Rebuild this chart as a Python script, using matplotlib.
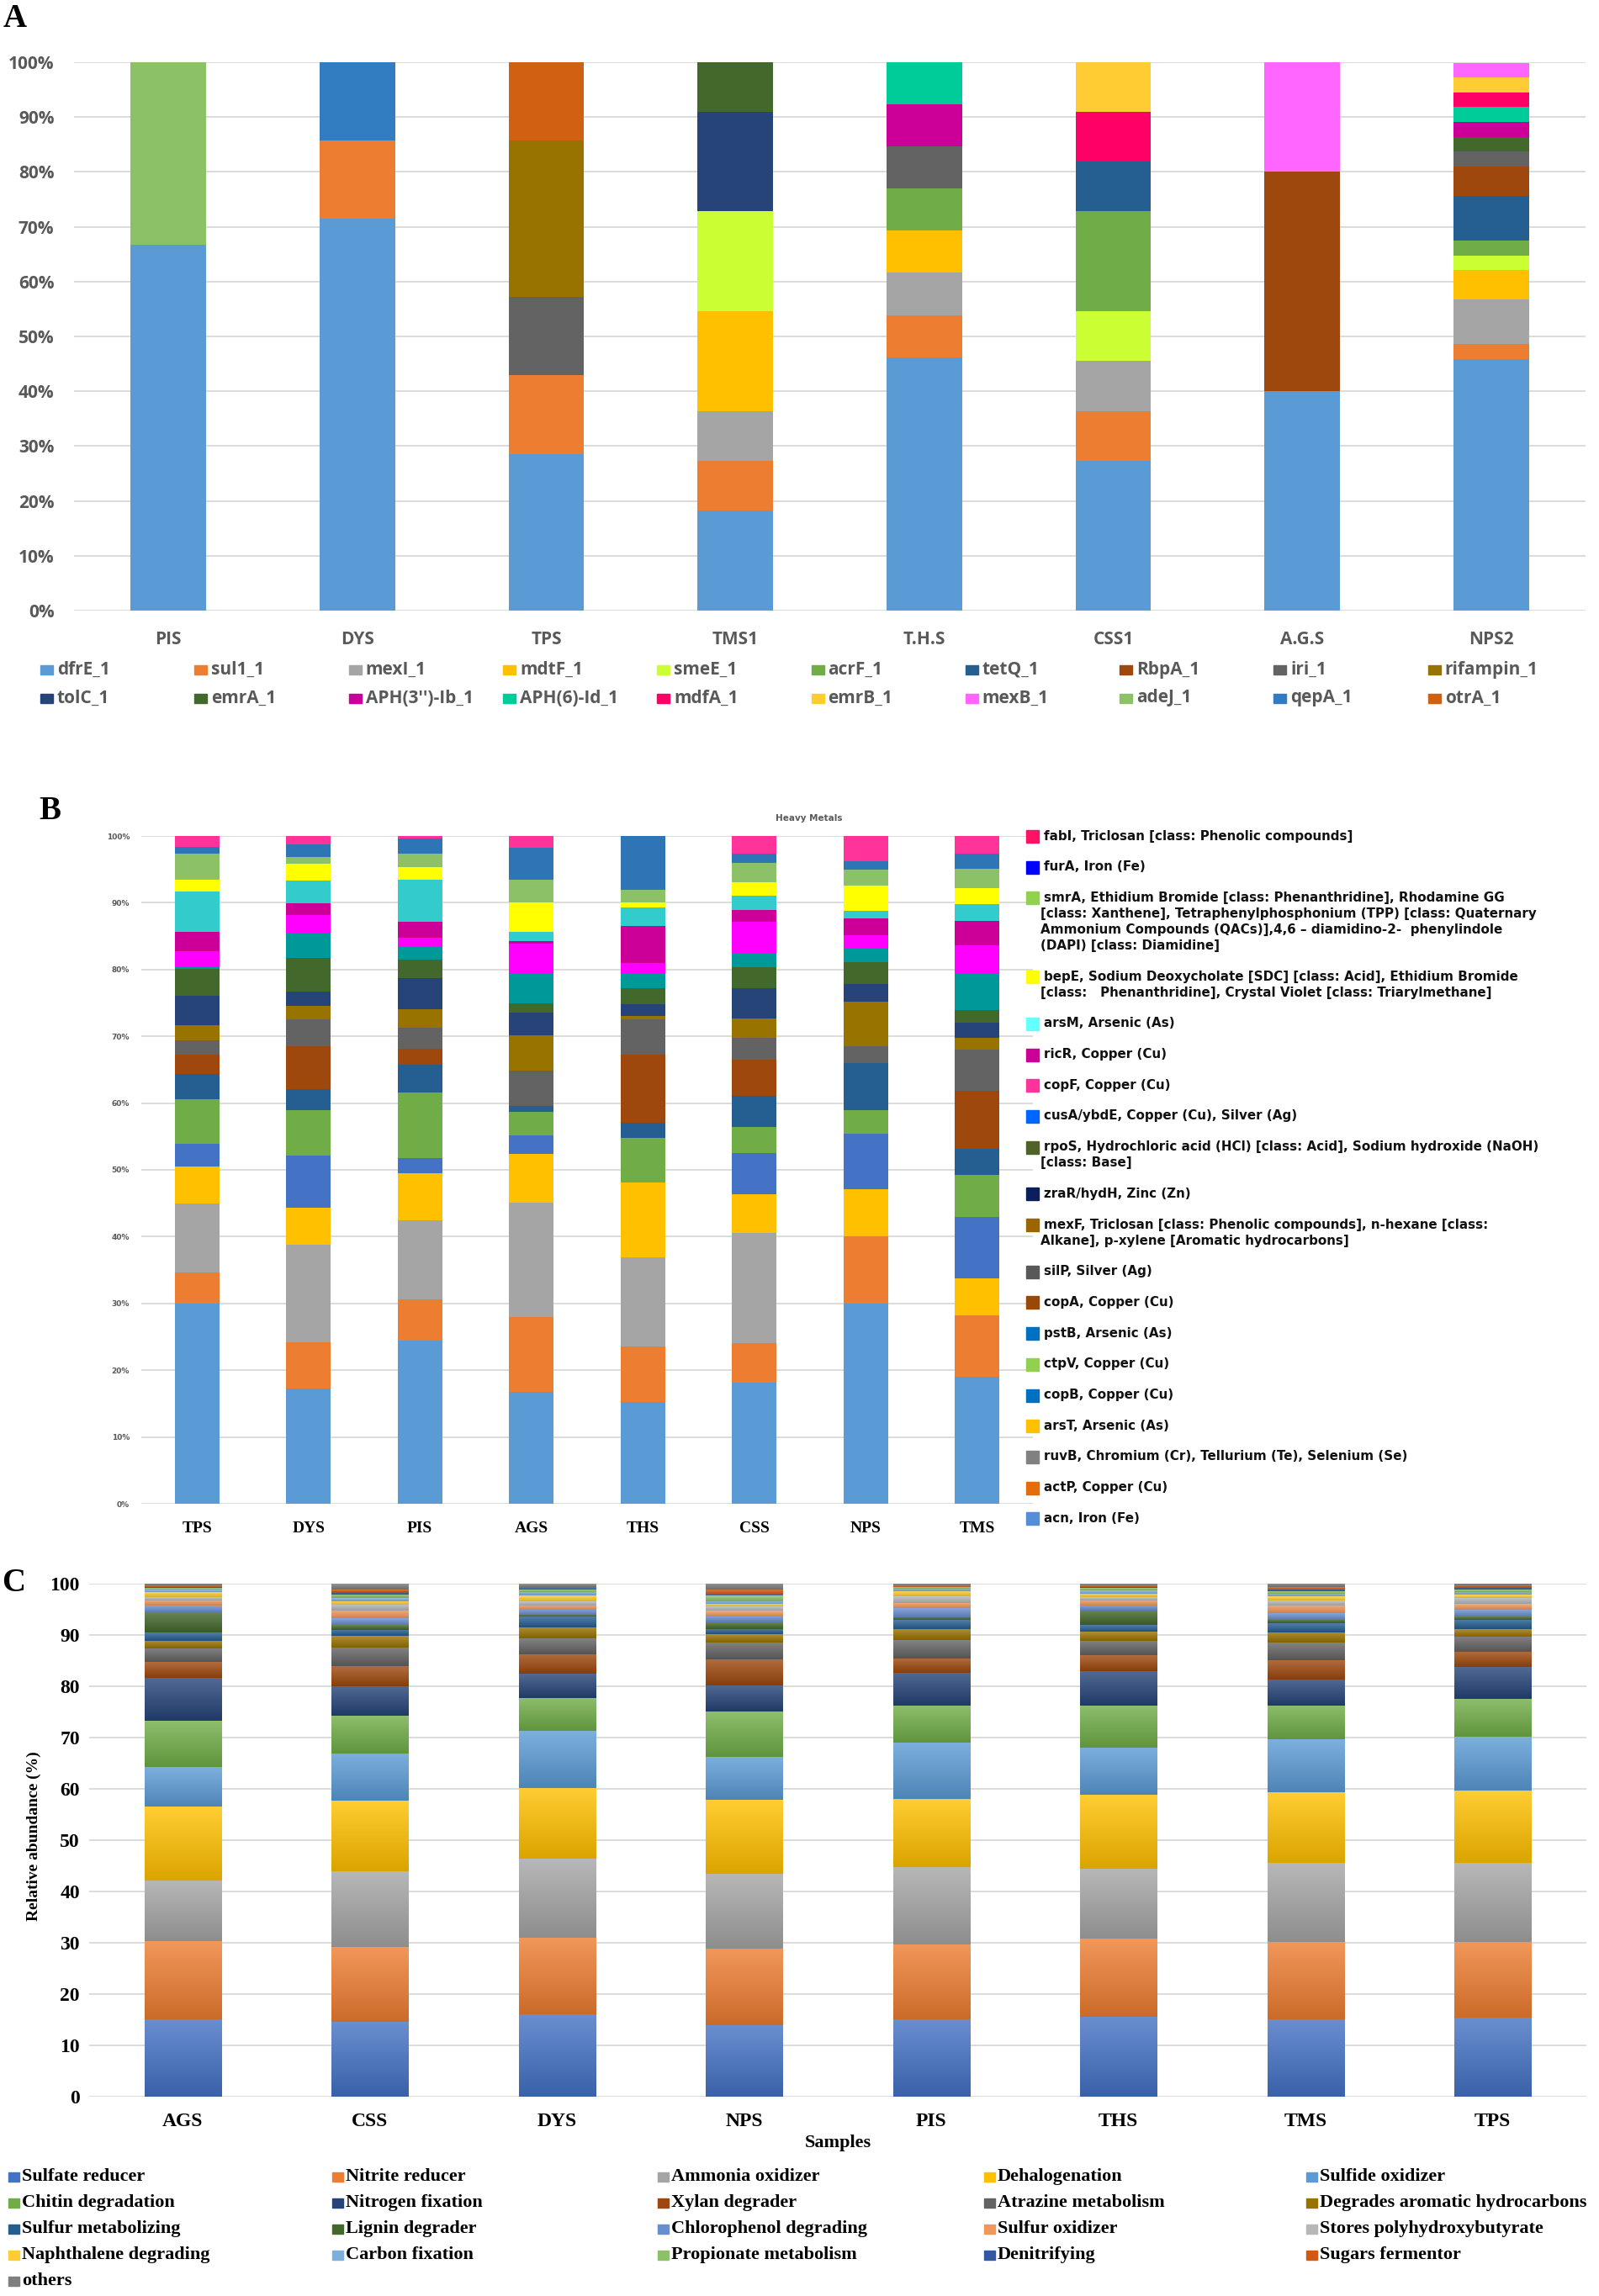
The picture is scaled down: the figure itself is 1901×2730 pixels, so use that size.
import numpy as np
import matplotlib
matplotlib.use("Agg")
import matplotlib.pyplot as plt
from matplotlib.patches import Rectangle
from matplotlib.colors import to_rgb

W, H = 1901, 2730

# ── DATA: panel A (ARGs, % of genes per sample) ───────────────────────────────
a_samples = ["PIS", "DYS", "TPS", "TMS1", "T.H.S", "CSS1", "A.G.S", "NPS2"]
a_genes = ["dfrE_1", "sul1_1", "mexI_1", "mdtF_1", "smeE_1", "acrF_1", "tetQ_1",
           "RbpA_1", "iri_1", "rifampin_1", "tolC_1", "emrA_1", "APH(3'')-Ib_1",
           "APH(6)-Id_1", "mdfA_1", "emrB_1", "mexB_1", "adeJ_1", "qepA_1", "otrA_1"]
a_colors = ["#5B9BD5", "#ED7D31", "#A5A5A5", "#FFC000", "#CCFF33", "#70AD47", "#255E91",
            "#9E480E", "#636363", "#997300", "#264478", "#43682B", "#CC0099",
            "#00CC99", "#FF0066", "#FFCC33", "#FF66FF", "#8CC168", "#327DC2", "#D26012"]
#          dfrE  sul1  mexI  mdtF  smeE  acrF  tetQ  RbpA  iri   rifa  tolC  emrA  APH3  APH6  mdfA  emrB  mexB  adeJ  qepA  otrA
a_PIS  = [66.7, 0,    0,    0,    0,    0,    0,    0,    0,    0,    0,    0,    0,    0,    0,    0,    0,    33.3, 0,    0]
a_DYS  = [71.4, 14.3, 0,    0,    0,    0,    0,    0,    0,    0,    0,    0,    0,    0,    0,    0,    0,    0,    14.3, 0]
a_TPS  = [28.6, 14.3, 0,    0,    0,    0,    0,    0,    14.3, 28.6, 0,    0,    0,    0,    0,    0,    0,    0,    0,    14.3]
a_TMS1 = [18.2, 9.1,  9.1,  18.2, 18.2, 0,    0,    0,    0,    0,    18.2, 9.1,  0,    0,    0,    0,    0,    0,    0,    0]
a_THS  = [46.2, 7.7,  7.7,  7.7,  0,    7.7,  0,    0,    7.7,  0,    0,    0,    7.7,  7.7,  0,    0,    0,    0,    0,    0]
a_CSS1 = [27.3, 9.1,  9.1,  0,    9.1,  18.2, 9.1,  0,    0,    0,    0,    0,    0,    0,    9.1,  9.1,  0,    0,    0,    0]
a_AGS  = [40.0, 0,    0,    0,    0,    0,    0,    40.0, 0,    0,    0,    0,    0,    0,    0,    0,    20.0, 0,    0,    0]
a_NPS2 = [45.9, 2.7,  8.1,  5.4,  2.7,  2.7,  8.1,  5.4,  2.7,  0,    0,    2.7,  2.7,  2.7,  2.7,  2.7,  2.7,  0,    0,    0]

# ── DATA: panel B (heavy metals / biocides, stacked bottom -> top) ────────────
b_samples = ["TPS", "DYS", "PIS", "AGS", "THS", "CSS", "NPS", "TMS"]
b_genes = ["acn", "actP", "ruvB", "arsT", "copB", "ctpV", "pstB", "copA", "silP", "mexF",
           "zraR", "rpoS", "cusA", "copF", "ricR", "arsM", "bepE", "smrA", "furA", "fabI"]
b_bar_colors = ["#5B9BD5", "#ED7D31", "#A5A5A5", "#FFC000", "#4472C4", "#70AD47", "#255E91",
                "#9E480E", "#636363", "#997300", "#264478", "#43682B", "#009999", "#FF00FF",
                "#CC0099", "#33CCCC", "#FFFF00", "#8CC168", "#2E75B6", "#FF3399"]
#          acn   actP  ruvB  arsT  copB  ctpV  pstB  copA  silP  mexF  zraR  rpoS  cusA  copF  ricR  arsM  bepE  smrA  furA  fabI
b_TPS  = [30.0, 4.6,  10.4, 5.5,  3.4,  6.7,  3.8,  2.8,  2.2,  2.3,  4.4,  4.0,  0.3,  2.4,  2.8,  6.1,  1.7,  3.9,  1.1,  1.6]
b_DYS  = [17.2, 7.0,  14.6, 5.5,  7.8,  6.8,  3.2,  6.4,  4.1,  1.9,  2.2,  5.1,  3.6,  2.8,  1.7,  3.4,  2.6,  0.9,  2.0,  1.2]
b_PIS  = [24.4, 6.2,  11.9, 7.0,  2.3,  9.8,  4.1,  2.4,  3.2,  2.7,  4.7,  2.8,  1.9,  1.4,  2.3,  6.4,  1.9,  1.9,  2.3,  0.4]
b_AGS  = [16.8, 11.1, 17.2, 7.3,  2.8,  3.5,  0.9,  0,    5.3,  5.2,  3.5,  1.4,  4.4,  4.5,  0.3,  1.5,  4.3,  3.4,  4.8,  1.8]
b_THS  = [15.2, 8.4,  13.3, 11.2, 0,    6.7,  2.2,  10.2, 5.3,  0.5,  1.8,  2.4,  2.2,  1.6,  5.5,  2.8,  0.7,  2.0,  8.0,  0]
b_CSS  = [18.1, 5.9,  16.6, 5.7,  6.2,  3.9,  4.7,  5.4,  3.3,  2.9,  4.5,  3.2,  2.1,  4.6,  1.8,  2.1,  2.1,  2.9,  1.3,  2.7]
b_NPS  = [30.0, 10.0, 0,    7.1,  8.3,  3.6,  7.0,  0,    2.5,  6.7,  2.6,  3.3,  2.1,  2.0,  2.4,  1.2,  3.8,  2.3,  1.3,  3.8]
b_TMS  = [19.0, 9.2,  0,    5.5,  9.3,  6.2,  4.0,  8.7,  6.1,  1.8,  2.2,  1.9,  5.5,  4.2,  3.7,  2.5,  2.4,  2.9,  2.2,  2.7]

# legend of panel B, top -> bottom, as printed in the figure
b_legend_labels = [
    ["fabI, Triclosan [class: Phenolic compounds]"],
    ["furA, Iron (Fe)"],
    ["smrA, Ethidium Bromide [class: Phenanthridine], Rhodamine GG",
     "[class: Xanthene], Tetraphenylphosphonium (TPP) [class: Quaternary",
     "Ammonium Compounds (QACs)],4,6 \u2013 diamidino-2-  phenylindole",
     "(DAPI) [class: Diamidine]"],
    ["bepE, Sodium Deoxycholate [SDC] [class: Acid], Ethidium Bromide",
     "[class:   Phenanthridine], Crystal Violet [class: Triarylmethane]"],
    ["arsM, Arsenic (As)"],
    ["ricR, Copper (Cu)"],
    ["copF, Copper (Cu)"],
    ["cusA/ybdE, Copper (Cu), Silver (Ag)"],
    ["rpoS, Hydrochloric acid (HCl) [class: Acid], Sodium hydroxide (NaOH)",
     "[class: Base]"],
    ["zraR/hydH, Zinc (Zn)"],
    ["mexF, Triclosan [class: Phenolic compounds], n-hexane [class:",
     "Alkane], p-xylene [Aromatic hydrocarbons]"],
    ["silP, Silver (Ag)"],
    ["copA, Copper (Cu)"],
    ["pstB, Arsenic (As)"],
    ["ctpV, Copper (Cu)"],
    ["copB, Copper (Cu)"],
    ["arsT, Arsenic (As)"],
    ["ruvB, Chromium (Cr), Tellurium (Te), Selenium (Se)"],
    ["actP, Copper (Cu)"],
    ["acn, Iron (Fe)"],
]
b_legend_colors = ["#FF1166", "#0000FF", "#92D050", "#FFFF00", "#66FFFF", "#CC0099", "#FF3399",
                   "#0066FF", "#4F6228", "#0C1F5A", "#996600", "#595959", "#984807", "#0070C0",
                   "#92D050", "#0070C0", "#FFC000", "#808080", "#E46C0A", "#558ED5"]

# ── DATA: panel C (functional groups, relative abundance %) ───────────────────
c_samples = ["AGS", "CSS", "DYS", "NPS", "PIS", "THS", "TMS", "TPS"]
c_groups = ["Sulfate reducer", "Nitrite reducer", "Ammonia oxidizer", "Dehalogenation",
            "Sulfide oxidizer", "Chitin degradation", "Nitrogen fixation", "Xylan degrader",
            "Atrazine metabolism", "Degrades aromatic hydrocarbons", "Sulfur metabolizing",
            "Lignin degrader", "Chlorophenol degrading", "Sulfur oxidizer",
            "Stores polyhydroxybutyrate", "Naphthalene degrading", "Carbon fixation",
            "Propionate metabolism", "Denitrifying", "Sugars fermentor", "others"]
c_colors = ["#4472C4", "#ED7D31", "#A5A5A5", "#FFC000", "#5B9BD5", "#70AD47", "#264478",
            "#9E480E", "#636363", "#997300", "#255E91", "#43682B", "#698ED0", "#F1975A",
            "#B7B7B7", "#FFCD33", "#7CAFDD", "#8CC168", "#335AA1", "#D05A14", "#7F7F7F"]
c_AGS = [15.1, 15.2, 11.9, 14.3, 7.7, 9.0, 8.5, 3.0, 2.7, 1.5, 1.6, 4.0, 1.3, 1.0, 0.6, 1.0, 0.4, 0.3, 0.2, 0.3, 0.4]
c_CSS = [14.6, 14.5, 14.8, 13.8, 9.2, 7.3, 5.8, 3.9, 3.7, 2.2, 1.2, 0.9, 1.3, 1.5, 1.2, 0.7, 0.6, 0.7, 0.5, 0.4, 1.2]
c_DYS = [16.0, 15.0, 15.4, 13.8, 11.1, 6.4, 4.7, 3.8, 3.1, 2.2, 2.1, 0.3, 1.0, 0.9, 0.7, 1.2, 0.7, 0.4, 0.3, 0.3, 0.6]
c_NPS = [13.9, 15.0, 14.6, 14.3, 8.4, 8.8, 5.2, 5.1, 3.3, 1.6, 1.0, 1.2, 1.2, 1.1, 0.8, 0.5, 0.6, 1.1, 0.1, 1.0, 1.3]
c_PIS = [15.1, 14.6, 15.0, 13.4, 10.9, 7.2, 6.4, 2.8, 3.6, 2.2, 1.8, 0.5, 1.7, 1.1, 1.2, 1.0, 0.5, 0.3, 0.1, 0.3, 0.3]
c_THS = [15.6, 15.3, 13.5, 14.4, 9.2, 8.2, 6.8, 3.0, 2.8, 1.8, 1.3, 2.8, 1.1, 1.0, 0.6, 0.7, 0.6, 0.4, 0.3, 0.3, 0.3]
c_TMS = [15.1, 15.1, 15.3, 13.8, 10.3, 6.6, 5.1, 3.8, 3.4, 2.0, 1.8, 0.7, 1.3, 1.5, 0.9, 0.8, 0.6, 0.4, 0.4, 0.4, 0.7]
c_TPS = [15.4, 14.8, 15.4, 14.1, 10.5, 7.3, 6.2, 3.0, 3.0, 1.4, 1.9, 0.6, 1.3, 1.1, 1.2, 0.6, 0.6, 0.4, 0.5, 0.3, 0.4]


# ── helpers ───────────────────────────────────────────────────────────────────
def add_ax(left, top, right, bottom):
    return fig.add_axes([left / W, 1 - bottom / H, (right - left) / W, (bottom - top) / H])


def fx(x):
    return x / W


def fy(y):
    return 1 - y / H


def stacked(ax, table, colors, width, gradient=False):
    data = np.array(table, dtype=float).T      # genes x samples
    x = np.arange(data.shape[1])
    bottom = np.zeros(data.shape[1])
    for row, col in zip(data, colors):
        bars = ax.bar(x, row, width, bottom=bottom, color=col, linewidth=0, zorder=3)
        if gradient:
            # Excel-like shading: lighter at the top of each segment, darker at the bottom
            c = np.array(to_rgb(col))
            img = np.linspace(c * 0.86, c + (1 - c) * 0.2, 32)[:, None, :]
            for rect in bars:
                if rect.get_height() <= 0:
                    continue
                x0, y0 = rect.get_x(), rect.get_y()
                ax.imshow(img, extent=[x0, x0 + rect.get_width(), y0, y0 + rect.get_height()],
                          origin="lower", aspect="auto", interpolation="bilinear", zorder=4)
        bottom += row


def style_ax(ax, grid_color="#D9D9D9"):
    ax.set_xlim(-0.5, 7.5)
    ax.set_ylim(0, 100)
    ax.set_yticks(np.arange(0, 101, 10))
    ax.grid(axis="y", color=grid_color, linewidth=1.3, zorder=0)
    ax.set_axisbelow(True)
    for s in ax.spines.values():
        s.set_visible(False)
    ax.tick_params(length=0)


fig = plt.figure(figsize=(W / 100, H / 100), dpi=100)
fig.patch.set_facecolor("white")

serif = "Liberation Serif"
sans_a = "Open Sans"

# ── PANEL A ───────────────────────────────────────────────────────────────────
axA = add_ax(88, 74, 1885, 726)
stacked(axA, [a_PIS, a_DYS, a_TPS, a_TMS1, a_THS, a_CSS1, a_AGS, a_NPS2], a_colors, 0.4)
style_ax(axA)
axA.set_yticklabels([f"{v}%" for v in range(0, 101, 10)], fontsize=15, color="#595959",
                    family=sans_a, fontweight="bold")
axA.set_xticks(range(len(a_samples)))
axA.set_xticklabels(a_samples, fontsize=15, color="#595959", family=sans_a,
                    fontweight="bold")
axA.tick_params(axis="y", pad=17)
axA.tick_params(axis="x", pad=17)

for i, (lab, col) in enumerate(zip(a_genes, a_colors)):
    r, c = divmod(i, 10)
    x0 = 48 + c * 183.3
    y0 = 796 + r * 34
    fig.patches.append(Rectangle((fx(x0), fy(y0 + 6)), 15 / W, 11 / H, color=col,
                                 transform=fig.transFigure, figure=fig))
    fig.text(fx(x0 + 20), fy(y0), lab, fontsize=15, color="#595959", family=sans_a,
             fontweight="bold", va="center", ha="left")

fig.text(fx(4), fy(4), "A", fontsize=28, fontweight="bold", family=serif, va="top")

# ── PANEL B ───────────────────────────────────────────────────────────────────
axB = add_ax(168, 994, 1228, 1788)
stacked(axB, [b_TPS, b_DYS, b_PIS, b_AGS, b_THS, b_CSS, b_NPS, b_TMS], b_bar_colors, 0.4)
style_ax(axB)
axB.set_yticklabels([f"{v}%" for v in range(0, 101, 10)], fontsize=6.5, color="#595959",
                    fontweight="bold")
axB.set_xticks(range(len(b_samples)))
axB.set_xticklabels(b_samples, fontsize=14, fontweight="bold", family=serif)
axB.tick_params(axis="y", pad=10)
axB.tick_params(axis="x", pad=15)

fig.text(fx(962), fy(973), "Heavy Metals", fontsize=7.5, fontweight="bold",
         color="#595959", ha="center", va="center")
fig.text(fx(46), fy(946), "B", fontsize=28, fontweight="bold", family=serif, va="top")

y = 994.0
for lines, col in zip(b_legend_labels, b_legend_colors):
    fig.patches.append(Rectangle((fx(1220), fy(y + 8)), 15 / W, 15 / H, color=col,
                                 transform=fig.transFigure, figure=fig))
    for k, line in enumerate(lines):
        xt = 1241 if k == 0 else 1237
        fig.text(fx(xt), fy(y + k * 19), line, fontsize=10.9, fontweight="heavy",
                 color="#111111", va="center", ha="left")
    y += (len(lines) - 1) * 19 + 36.7

# ── PANEL C ───────────────────────────────────────────────────────────────────
axC = add_ax(106, 1883, 1886, 2493)
stacked(axC, [c_AGS, c_CSS, c_DYS, c_NPS, c_PIS, c_THS, c_TMS, c_TPS], c_colors, 0.41,
        gradient=True)
style_ax(axC)
axC.set_yticklabels([str(v) for v in range(0, 101, 10)], fontsize=17, fontweight="bold",
                    family=serif)
axC.set_xticks(range(len(c_samples)))
axC.set_xticklabels(c_samples, fontsize=17, fontweight="bold", family=serif)
axC.tick_params(axis="y", pad=8)
axC.tick_params(axis="x", pad=14)

fig.text(fx(996), fy(2548), "Samples", fontsize=16, fontweight="bold", family=serif,
         ha="center", va="center")
fig.text(fx(40), fy(2183), "Relative abundance (%)", fontsize=14, fontweight="bold",
         family=serif, rotation=90, ha="center", va="center")
fig.text(fx(2), fy(1864), "C", fontsize=28, fontweight="bold", family=serif, va="top")

c_cols_x = [10, 395, 782, 1170, 1553]
for i, (lab, col) in enumerate(zip(c_groups, c_colors)):
    r, c = divmod(i, 5)
    x0 = c_cols_x[c]
    y0 = 2588 + r * 31
    fig.patches.append(Rectangle((fx(x0), fy(y0 + 6)), 13 / W, 11 / H, color=col,
                                 transform=fig.transFigure, figure=fig))
    fig.text(fx(x0 + 16), fy(y0), lab, fontsize=16, fontweight="bold", family=serif,
             va="center", ha="left")

fig.savefig("out.png", dpi=100, facecolor="white")
